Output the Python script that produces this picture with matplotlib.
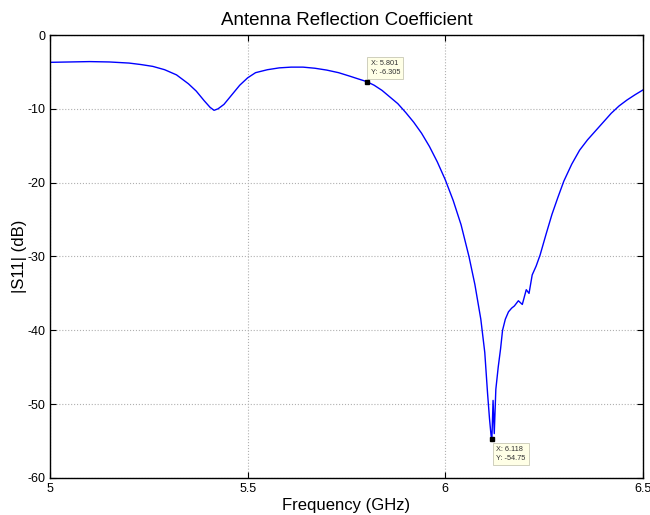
import matplotlib
matplotlib.use("Agg")
import matplotlib.pyplot as plt

plt.rcParams['font.family'] = ['Liberation Sans', 'DejaVu Sans']
plt.rcParams['axes.unicode_minus'] = False

# frequency (GHz) and |S11| (dB)
freq = [5.00, 5.05, 5.10, 5.15, 5.20, 5.23, 5.26, 5.29, 5.32, 5.35, 5.37, 5.39,
        5.405, 5.415, 5.425, 5.44, 5.46, 5.48, 5.50, 5.52, 5.55, 5.58, 5.61, 5.64,
        5.67, 5.70, 5.73, 5.76, 5.78, 5.801, 5.82, 5.84, 5.86, 5.88, 5.90, 5.92,
        5.94, 5.96, 5.98, 6.00, 6.02, 6.04, 6.06, 6.075, 6.09, 6.10, 6.107, 6.112,
        6.116, 6.118, 6.121, 6.124, 6.128, 6.131, 6.134, 6.140, 6.145, 6.152,
        6.160, 6.168, 6.175, 6.185, 6.195, 6.205, 6.212, 6.22, 6.23, 6.24, 6.255,
        6.27, 6.285, 6.30, 6.32, 6.34, 6.36, 6.38, 6.40, 6.42, 6.44, 6.46, 6.48, 6.50]
s11 = [-3.7, -3.65, -3.6, -3.65, -3.8, -4.0, -4.25, -4.7, -5.4, -6.6, -7.6, -8.9,
       -9.8, -10.2, -10.0, -9.4, -8.1, -6.8, -5.8, -5.1, -4.7, -4.45, -4.35, -4.35,
       -4.5, -4.75, -5.1, -5.6, -5.95, -6.305, -6.8, -7.5, -8.4, -9.3, -10.5, -11.8,
       -13.3, -15.1, -17.2, -19.6, -22.4, -25.7, -30.0, -33.8, -38.5, -43.0, -48.5, -52.0,
       -54.3, -54.75, -49.5, -54.0, -48.0, -46.5, -45.0, -42.5, -40.0, -38.5,
       -37.5, -37.0, -36.7, -36.0, -36.5, -34.5, -35.0, -32.5, -31.3, -29.8, -27.0,
       -24.3, -22.0, -19.8, -17.5, -15.6, -14.2, -13.0, -11.8, -10.6, -9.6, -8.8, -8.1, -7.45]

# data tips
tip_x = [5.801, 6.118]
tip_y = [-6.305, -54.75]
tip_text = ['X: 5.801\nY: -6.305', 'X: 6.118\nY: -54.75']
tip_offset = [(3, 4), (3, -5)]
tip_va = ['bottom', 'top']

fig = plt.figure(figsize=(6.5, 5.15), dpi=100)
ax = fig.add_axes([0.077, 0.072, 0.912, 0.86])

ax.plot(freq, s11, color='#0000ff', lw=1.0)

for x, y, t, off, va in zip(tip_x, tip_y, tip_text, tip_offset, tip_va):
    ax.plot(x, y, 's', color='black', ms=3.5, zorder=5)
    ax.annotate(t, (x, y), textcoords='offset points', xytext=off,
                fontsize=5.3, va=va, ha='left', color='#333333', linespacing=1.4,
                bbox=dict(boxstyle='square,pad=0.45', fc='#ffffe6', ec='#c8c8b4', lw=0.6))

ax.set_xlim(5, 6.5)
ax.set_ylim(-60, 0)
ax.set_xticks([5, 5.5, 6, 6.5])
ax.set_xticklabels(['5', '5.5', '6', '6.5'])
ax.set_yticks(range(-60, 1, 10))

ax.grid(True, linestyle=':', color='#b0b0b0', lw=0.8)
ax.tick_params(direction='in', top=True, right=True, labelsize=9, length=4)
for sp in ax.spines.values():
    sp.set_linewidth(1.0)

ax.set_title('Antenna Reflection Coefficient', fontsize=13.5, pad=7)
ax.set_xlabel('Frequency (GHz)', fontsize=12, labelpad=2)
ax.set_ylabel('|S11| (dB)', fontsize=12, labelpad=0)

fig.savefig('out.png', dpi=100)
